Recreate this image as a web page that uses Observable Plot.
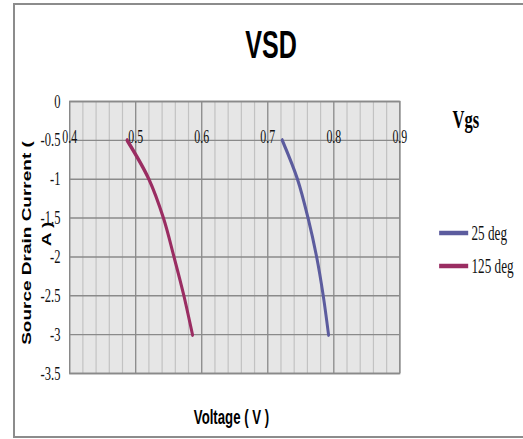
<!DOCTYPE html>
<html><head><meta charset="utf-8">
<script src="https://cdn.jsdelivr.net/npm/d3@7"></script>
<script src="https://cdn.jsdelivr.net/npm/@observablehq/plot@0.6"></script>
<style>
body{margin:0;background:#fff;}
#wrap{position:relative;width:523px;height:439px;overflow:hidden;background:#fff;}
#wrap svg{position:absolute;left:0;top:0;}
#frame{position:absolute;left:13px;top:3px;width:530px;height:435px;border:2px solid #8c8c8c;border-right:none;box-sizing:border-box;}
</style></head><body><div id="wrap"></div>
<script>
// ---- data ----
const current = [-0.5, -1, -1.5, -2, -2.5, -3];
const voltage25 = [0.722, 0.745, 0.761, 0.774, 0.784, 0.792];
const voltage125 = [0.487, 0.520, 0.542, 0.558, 0.573, 0.586];
const seriesNames = ["25 deg", "125 deg"];
const seriesColors = ["#5c5c9e", "#9a2d62"];
const xTicks = [0.4, 0.5, 0.6, 0.7, 0.8, 0.9];
const xMinor = [0.42,0.44,0.46,0.48,0.52,0.54,0.56,0.58,0.62,0.64,0.66,0.68,0.72,0.74,0.76,0.78,0.82,0.84,0.86,0.88];
const yTicks = [0, -0.5, -1, -1.5, -2, -2.5, -3, -3.5];
const title = "VSD";
const xLabel = "Voltage ( V )";
const yLabel1 = "Source Drain Current (";
const yLabel2 = "A )";
const legendTitle = "Vgs";

const rows = [];
current.forEach((c, i) => {
  rows.push({series: seriesNames[0], v: voltage25[i], i: c});
  rows.push({series: seriesNames[1], v: voltage125[i], i: c});
});

// internal drawing width; the SVG is squeezed horizontally to 523px
const W = 792, H = 439;
const mL = 105, mR = 187, mT = 101, mB = 66;
const serif = "'Liberation Serif','Times New Roman',serif";
const sans = "'Liberation Sans',Arial,sans-serif";

const chart = Plot.plot({
  width: W, height: H,
  marginLeft: mL, marginRight: mR, marginTop: mT, marginBottom: mB,
  x: {domain: [0.4, 0.9], axis: null},
  y: {domain: [-3.5, 0], ticks: yTicks, tickFormat: d => String(d)},
  color: {domain: seriesNames, range: seriesColors},
  style: {background: "transparent", overflow: "visible"},
  marks: [
    Plot.frame({fill: "#e6e6e6", stroke: null}),
    Plot.ruleX(xMinor, {stroke: "#c2c2c2", strokeWidth: 1.8}),
    Plot.ruleX(xTicks, {stroke: "#8a8a8a", strokeWidth: 2}),
    Plot.ruleY(yTicks, {stroke: "#8a8a8a", strokeWidth: 1.4}),
    Plot.frame({stroke: "#8a8a8a", strokeWidth: 1.6}),
    Plot.axisY({ticks: yTicks, tickSize: 0, tickPadding: 14, fontSize: 19, fontFamily: serif, fill: "#111", tickFormat: d => String(d), label: null}),
    Plot.text(xTicks, {x: d => d, y: -0.5, text: d => String(d), lineAnchor: "bottom", dy: 3, fontSize: 18, fontFamily: serif, fill: "#111"}),
    Plot.line(rows, {x: "v", y: "i", z: "series", stroke: "series", strokeWidth: 4.5, curve: "catmull-rom"}),
    Plot.text([title], {frameAnchor: "top-left", dx: 410 - mL, dy: 57 - mT, lineAnchor: "bottom", textAnchor: "middle", fontSize: 38, fontWeight: "bold", fontFamily: sans, fill: "#000"}),
    Plot.text([xLabel], {frameAnchor: "top-left", dx: 350 - mL, dy: 423 - mT, lineAnchor: "bottom", textAnchor: "middle", fontSize: 20, fontWeight: "bold", fontFamily: sans, fill: "#000"}),
    Plot.text([legendTitle], {frameAnchor: "top-left", dx: 705 - mL, dy: 127 - mT, lineAnchor: "bottom", textAnchor: "middle", fontSize: 25, fontWeight: "bold", fontFamily: serif, fill: "#000"})
  ]
});

const svg = d3.select(chart);
// rotated y label (two lines)
svg.append("text").attr("transform", `translate(41,243) rotate(-90)`).attr("text-anchor", "middle").attr("dy", "0.35em")
  .attr("font-family", sans).attr("font-weight", "bold").attr("font-size", 19).attr("fill", "#000").text(yLabel1);
svg.append("text").attr("transform", `translate(70,234) rotate(-90)`).attr("text-anchor", "middle").attr("dy", "0.35em")
  .attr("font-family", sans).attr("font-weight", "bold").attr("font-size", 19).attr("fill", "#000").text(yLabel2);
// legend
const legY = [233, 266];
seriesNames.forEach((name, j) => {
  svg.append("line").attr("x1", 665).attr("x2", 709).attr("y1", legY[j]).attr("y2", legY[j])
    .attr("stroke", seriesColors[j]).attr("stroke-width", 4.5);
  svg.append("text").attr("x", 714).attr("y", legY[j]).attr("dy", "0.35em").attr("text-anchor", "start")
    .attr("font-family", serif).attr("font-size", 20).attr("fill", "#111").text(name);
});

chart.setAttribute("width", 523);
chart.setAttribute("height", 439);
chart.setAttribute("viewBox", `0 0 ${W} ${H}`);
chart.setAttribute("preserveAspectRatio", "none");
chart.style.width = "523px";
chart.style.height = "439px";
chart.style.maxWidth = "none";

const wrap = document.getElementById("wrap");
wrap.appendChild(chart);
const frame = document.createElement("div");
frame.id = "frame";
wrap.appendChild(frame);
</script>
</body></html>
